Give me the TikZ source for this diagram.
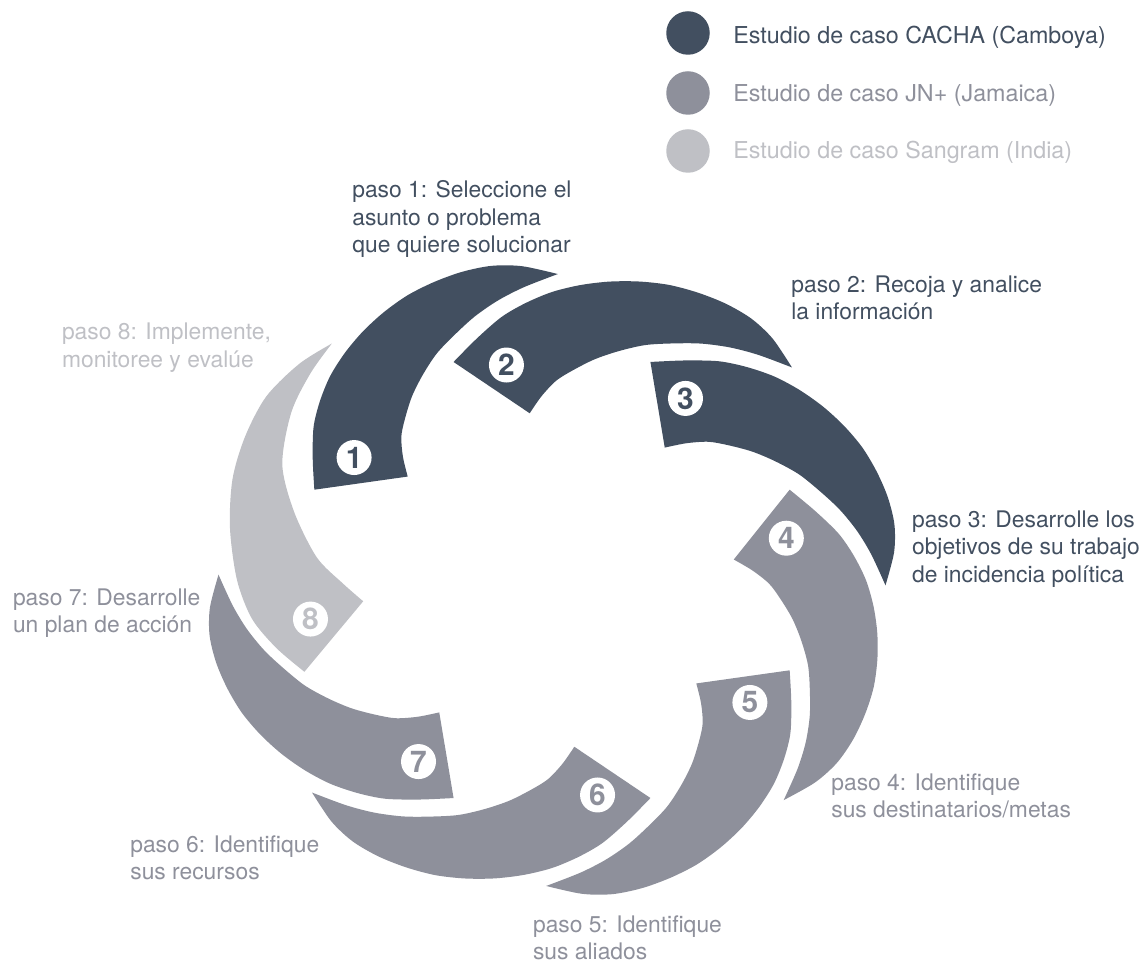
\documentclass[tikz,border=0pt]{standalone}
\usepackage{fontspec}
\setmainfont{TeX Gyre Heros}
\usetikzlibrary{positioning}

\definecolor{cacha}{HTML}{424F60}
\definecolor{jnplus}{HTML}{8E909B}
\definecolor{sangram}{HTML}{BFC0C5}

\tikzset{
    blade/.style={fill=#1, draw=none},
    stepnum/.style={circle, fill=white, inner sep=0pt, minimum size=0.7cm,
        text=#1, font=\fontsize{17}{17}\selectfont\bfseries},
    steptext/.style={anchor=north west, inner sep=0pt, align=left,
        text=#1, font=\fontsize{13}{15.6}\selectfont},
    legdot/.style={circle, fill=#1, minimum size=0.87cm, inner sep=0pt},
    legtext/.style={anchor=base west, inner sep=0pt,
        text=#1, font=\fontsize{13.25}{15.6}\selectfont},
}

\begin{document}
\begin{tikzpicture}[x=0.02cm, y=0.02cm]
    \useasboundingbox (-552,-383) rectangle (596,580);

    % the blades of the wheel
    \begin{scope}[xscale=1.09]
        \foreach \k/\num/\col in {0/1/cacha, 1/2/cacha, 2/3/cacha, 3/4/jnplus,
                                  4/5/jnplus, 5/6/jnplus, 6/7/jnplus} {
            \begin{scope}[rotate=-45*\k]
                \fill[blade=\col]
                    plot[smooth] coordinates {(157.5:236) (151:251) (145:267)
                        (140:278) (135:288) (130:296) (125:303) (120:309)
                        (115:314) (110:317) (105:319) (100:319) (95:315) (89:306)}
                    -- plot[smooth] coordinates {(89:306) (95:294) (100:284)
                        (105:273) (110:261) (115:250) (120:237) (125:224)
                        (130:210) (134:199) (138:184) (142:168)}
                    -- cycle;
                \node[stepnum=\col] (n\num) at (146:219) {\num};
            \end{scope}
        }
        % blade 8 sweeps a little further
        \begin{scope}[rotate=-315]
            \fill[blade=sangram]
                plot[smooth] coordinates {(157:245) (150:262) (143:278)
                    (135:289) (125:300) (116:310) (108:316) (100:320)
                    (92:317) (85.5:311)}
                -- plot[smooth] coordinates {(85.5:311) (92:303) (100:292)
                    (110:273) (119:246) (129:217) (136:192) (142:174.5)}
                -- cycle;
            \node[stepnum=sangram] (n8) at (145:225) {8};
        \end{scope}
    \end{scope}

    % step texts
    \node[steptext=cacha] (t1) at (-200,399.5)
        {paso 1: Seleccione el\\asunto o problema\\que quiere solucionar};
    \node[steptext=cacha] (t2) at (239,304.8)
        {paso 2: Recoja y analice\\la información};
    \node[steptext=cacha] (t3) at (359.7,69.8)
        {paso 3: Desarrolle los\\objetivos de su trabajo\\de incidencia política};
    \node[steptext=jnplus] (t4) at (279,-193.5)
        {paso 4: Identifique\\sus destinatarios/metas};
    \node[steptext=jnplus] (t5) at (-19.3,-335.5)
        {paso 5: Identifique\\sus aliados};
    \node[steptext=jnplus] (t6) at (-422,-255.2)
        {paso 6: Identifique\\sus recursos};
    \node[steptext=jnplus] (t7) at (-539.3,-8.5)
        {paso 7: Desarrolle\\un plan de acción};
    \node[steptext=sangram] (t8) at (-490.3,257.2)
        {paso 8: Implemente,\\monitoree y evalúe};

    % legend
    \node[legdot=cacha] (d1) at (136,547) {};
    \node[legdot=jnplus] (d2) at (136,487) {};
    \node[legdot=sangram] (d3) at (136,429) {};
    \node[legtext=cacha] (l1) at (181,536.7) {Estudio de caso CACHA (Camboya)};
    \node[legtext=jnplus] (l2) at (181,478.3) {Estudio de caso JN+ (Jamaica)};
    \node[legtext=sangram] (l3) at (181,421.7) {Estudio de caso Sangram (India)};
\end{tikzpicture}
\end{document}
